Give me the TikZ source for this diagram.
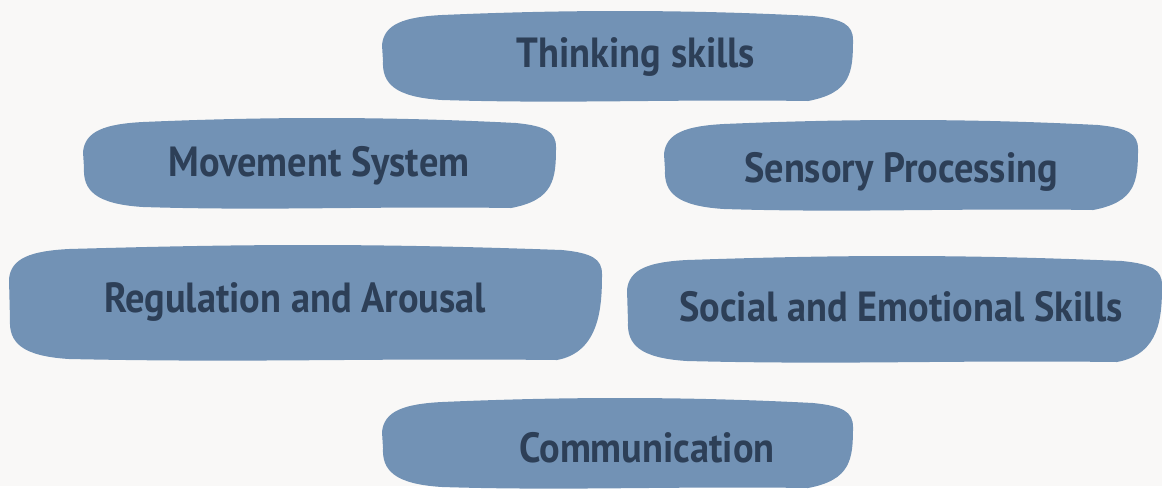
\documentclass[tikz,border=0pt]{standalone}
\usepackage{fontspec}
\setmainfont{PT Sans}[FakeStretch=0.91]
\usetikzlibrary{backgrounds}

\definecolor{paper}{HTML}{F9F8F7}
\definecolor{brushblue}{HTML}{7292B5}
\definecolor{inkblue}{HTML}{2D3F57}

% brush stroke: left, top, right, bottom (in px)
\newcommand\brush[4]{%
\fill[brushblue] (#1,#2+35)
 .. controls (#1+2,#2+14) and (#1+22,#2+7) .. (#1+60,#2+5)
 .. controls ({(#1+#3)/2-60},#2) and ({(#1+#3)/2+60},#2-1) .. (#3-40,#2+6)
 .. controls (#3-10,#2+9) and (#3,#2+15) .. (#3,#2+30)
 .. controls (#3,#2+62) and (#3-2,#4-10) .. (#3-45,#4-2)
 .. controls ({(#1+#3)/2+50},#4-4) and ({(#1+#3)/2-50},#4+1) .. (#1+60,#4-3)
 .. controls (#1+12,#4-6) and (#1,#4-20) .. (#1+1,#4-42)
 -- cycle;}

\begin{document}
\begin{tikzpicture}[x=0.02cm,y=-0.02cm,
  label/.style={text=inkblue,font=\bfseries\fontsize{24}{28}\selectfont,inner sep=0pt}]
\fill[paper] (0,0) rectangle (1162,486);
\brush{382}{10}{853}{103}
\brush{83}{117}{556}{210}
\brush{664}{119}{1138}{212}
\brush{9}{244}{602}{362}
\brush{627}{255}{1162}{364}
\brush{382}{397}{853}{490}
\node[label] (think) at (636,57) {Thinking skills};
\node[label] (move) at (319,166) {Movement System};
\node[label] (sense) at (901,172) {Sensory Processing};
\node[label] (regul) at (295,302) {Regulation and Arousal};
\node[label] (social) at (901,307) {Social and Emotional Skills};
\node[label] (comm) at (647,448) {Communication};
\useasboundingbox (0,0) rectangle (1162,486);
\end{tikzpicture}
\end{document}
